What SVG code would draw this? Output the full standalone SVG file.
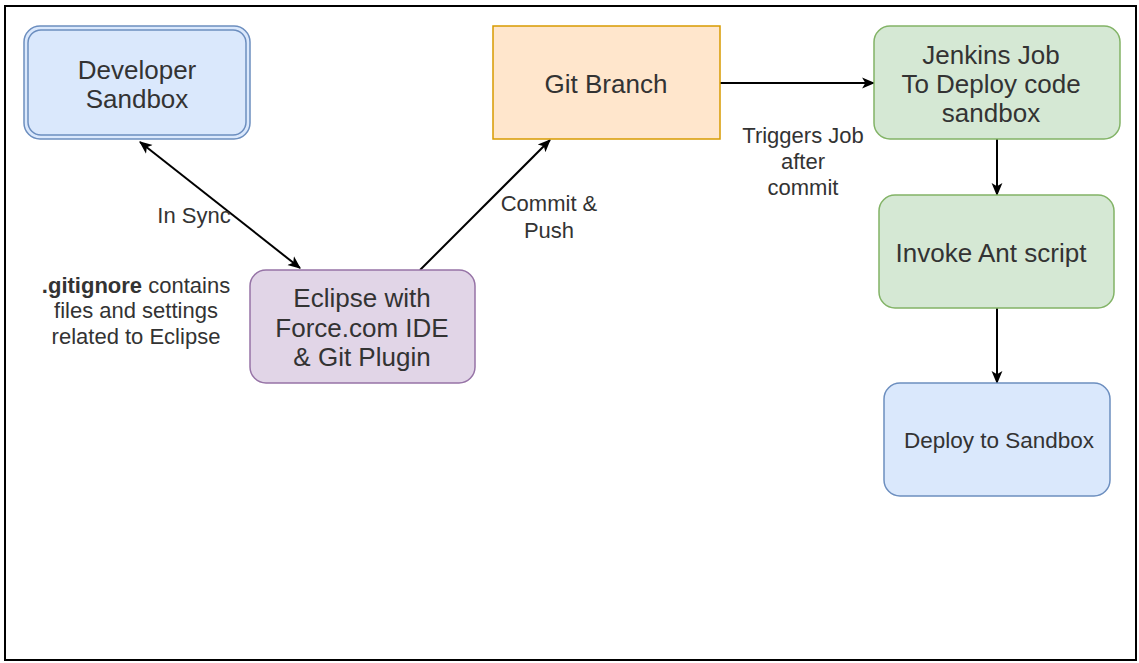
<svg xmlns="http://www.w3.org/2000/svg" width="1139" height="663" viewBox="0 0 1139 663">
<defs>
<marker id="ah" viewBox="0 0 12 12" refX="11" refY="6" markerWidth="13" markerHeight="13" markerUnits="userSpaceOnUse" orient="auto-start-reverse">
<path d="M0,1 L12,6 L0,11 L3,6 Z" fill="#000"/>
</marker>
<style>
.t{font-family:"Liberation Sans",Arial,sans-serif;fill:#333;text-anchor:middle;dominant-baseline:central}
.n{font-size:26px}
.l{font-size:22px}
.c{stroke:#000;stroke-width:2;fill:none}
</style>
</defs>
<rect x="5" y="6" width="1131" height="654" fill="#fff" stroke="#000" stroke-width="2"/>
<g id="connectors">
<line class="c" x1="140" y1="142" x2="300" y2="268" marker-start="url(#ah)" marker-end="url(#ah)"/>
<line class="c" x1="420" y1="270" x2="550" y2="140" marker-end="url(#ah)"/>
<line class="c" x1="720" y1="83" x2="874" y2="83" marker-end="url(#ah)"/>
<line class="c" x1="997" y1="139" x2="997" y2="195" marker-end="url(#ah)"/>
<line class="c" x1="997" y1="308" x2="997" y2="383" marker-end="url(#ah)"/>
</g>
<g id="labels">
<text class="t l" x="194" y="215">In Sync</text>
<text class="t l" x="549" y="203">Commit &amp;</text>
<text class="t l" x="549" y="230">Push</text>
<text class="t l" x="803" y="135">Triggers Job</text>
<text class="t l" x="803" y="161">after</text>
<text class="t l" x="803" y="187">commit</text>
<text class="t l" x="136" y="285"><tspan font-weight="bold">.gitignore</tspan> contains</text>
<text class="t l" x="136" y="310">files and settings</text>
<text class="t l" x="136" y="336">related to Eclipse</text>
</g>
<g id="developer-sandbox">
<rect x="24" y="26" width="226" height="113" rx="16" fill="#dae8fc" stroke="#6c8ebf" stroke-width="1.5"/>
<rect x="28" y="30" width="218" height="105" rx="13" fill="none" stroke="#6c8ebf" stroke-width="1.5"/>
<text class="t n" x="137" y="70">Developer</text>
<text class="t n" x="137" y="99">Sandbox</text>
</g>
<g id="eclipse">
<rect x="250" y="270" width="225" height="113" rx="16" fill="#e1d5e7" stroke="#9673a6" stroke-width="1.5"/>
<text class="t n" x="362" y="298">Eclipse with</text>
<text class="t n" x="362" y="328">Force.com IDE</text>
<text class="t n" x="362" y="357">&amp; Git Plugin</text>
</g>
<g id="git-branch">
<rect x="493" y="26" width="227" height="113" fill="#ffe6cc" stroke="#d79b00" stroke-width="1.5"/>
<text class="t n" x="606" y="84">Git Branch</text>
</g>
<g id="jenkins-job">
<rect x="874" y="26" width="246" height="113" rx="16" fill="#d5e8d4" stroke="#82b366" stroke-width="1.5"/>
<text class="t n" x="991" y="55">Jenkins Job</text>
<text class="t n" x="991" y="84">To Deploy code</text>
<text class="t n" x="991" y="113">sandbox</text>
</g>
<g id="invoke-ant">
<rect x="879" y="195" width="235" height="113" rx="16" fill="#d5e8d4" stroke="#82b366" stroke-width="1.5"/>
<text class="t n" x="991" y="253">Invoke Ant script</text>
</g>
<g id="deploy-sandbox">
<rect x="884" y="383" width="226" height="113" rx="16" fill="#dae8fc" stroke="#6c8ebf" stroke-width="1.5"/>
<text class="t" style="font-size:22.5px" x="999" y="440">Deploy to Sandbox</text>
</g>
</svg>
